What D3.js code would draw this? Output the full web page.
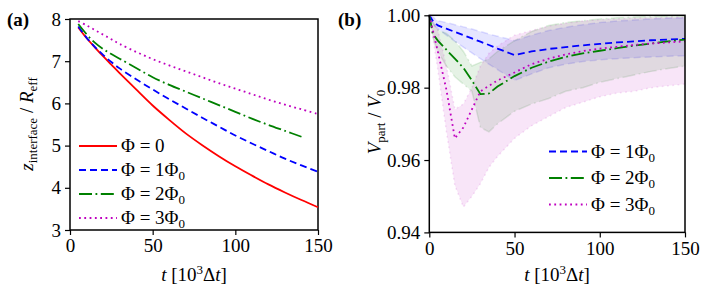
<!DOCTYPE html>
<html>
<head>
<meta charset="utf-8">
<script src="https://cdn.jsdelivr.net/npm/d3@7"></script>
<style>
  body { margin: 0; background: #fff; }
  svg text { font-family: "Liberation Serif", "DejaVu Serif", "Noto Serif", "FreeSerif", "Nimbus Roman", "Nimbus Roman No9 L", "Tinos", "Times New Roman", "Times", "Georgia", serif; }
</style>
</head>
<body>
<svg id="chart" width="707" height="302"></svg>
<script>
// ---- panel (a): interface height ----
const tA = [5, 10, 15, 20, 25, 30, 40, 50, 60, 70, 80, 90, 100, 110, 120, 130, 140, 150];
const zPhi0 = [7.80, 7.55, 7.33, 7.12, 6.92, 6.72, 6.33, 5.95, 5.61, 5.29, 5.01, 4.75, 4.51, 4.29, 4.08, 3.89, 3.71, 3.54];
const zPhi1 = [7.82, 7.56, 7.34, 7.15, 6.98, 6.83, 6.57, 6.33, 6.10, 5.88, 5.66, 5.45, 5.24, 5.05, 4.87, 4.69, 4.53, 4.38];
const zPhi2 = [7.88, 7.64, 7.44, 7.29, 7.17, 7.06, 6.84, 6.62, 6.44, 6.28, 6.12, 5.96, 5.80, 5.64, 5.49, 5.35, 5.21];
const zPhi3 = [7.95, 7.85, 7.74, 7.63, 7.52, 7.41, 7.22, 7.05, 6.90, 6.76, 6.62, 6.48, 6.35, 6.22, 6.09, 5.97, 5.86, 5.75];

// ---- panel (b): particle volume, mean with band ----
const tB = [0, 2, 5, 10, 15, 20, 25, 30, 35, 40, 50, 60, 70, 80, 90, 100, 110, 120, 130, 140, 150];
const vPhi1   = [1.000, 0.9985, 0.9972, 0.9963, 0.9954, 0.9945, 0.9936, 0.9927, 0.9918, 0.9908, 0.9890, 0.9900, 0.9907, 0.9912, 0.9917, 0.9921, 0.9925, 0.9928, 0.9931, 0.9933, 0.9935];
const vPhi1Lo = [1.000, 0.9975, 0.9963, 0.9945, 0.9928, 0.9912, 0.9896, 0.9880, 0.9865, 0.9850, 0.9820, 0.9838, 0.9855, 0.9865, 0.9872, 0.9877, 0.9880, 0.9883, 0.9885, 0.9887, 0.9888];
const vPhi1Hi = [1.000, 0.9995, 0.9985, 0.9980, 0.9974, 0.9968, 0.9962, 0.9955, 0.9948, 0.9942, 0.9930, 0.9945, 0.9958, 0.9967, 0.9974, 0.9980, 0.9984, 0.9987, 0.9990, 0.9992, 0.9993];
const vPhi2   = [1.000, 0.9950, 0.9930, 0.9905, 0.9880, 0.9855, 0.9820, 0.9782, 0.9784, 0.9803, 0.9832, 0.9855, 0.9872, 0.9885, 0.9895, 0.9902, 0.9909, 0.9916, 0.9922, 0.9928, 0.9933];
const vPhi2Lo = [1.000, 0.9940, 0.9900, 0.9860, 0.9830, 0.9810, 0.9790, 0.9690, 0.9678, 0.9700, 0.9735, 0.9755, 0.9770, 0.9790, 0.9800, 0.9815, 0.9825, 0.9835, 0.9845, 0.9853, 0.9860];
const vPhi2Hi = [1.000, 0.9980, 0.9960, 0.9950, 0.9930, 0.9900, 0.9860, 0.9870, 0.9880, 0.9900, 0.9930, 0.9955, 0.9972, 0.9980, 0.9985, 0.9990, 0.9993, 0.9995, 0.9997, 0.9998, 0.9999];
const vPhi3   = [1.000, 0.9960, 0.9900, 0.9795, 0.9660, 0.9690, 0.9740, 0.9790, 0.9805, 0.9820, 0.9842, 0.9865, 0.9880, 0.9892, 0.9901, 0.9908, 0.9913, 0.9918, 0.9922, 0.9925, 0.9928];
const vPhi3Lo = [1.000, 0.9940, 0.9850, 0.9680, 0.9530, 0.9470, 0.9500, 0.9535, 0.9580, 0.9610, 0.9660, 0.9695, 0.9720, 0.9745, 0.9760, 0.9775, 0.9785, 0.9790, 0.9800, 0.9805, 0.9810];
const vPhi3Hi = [1.000, 0.9990, 0.9960, 0.9860, 0.9740, 0.9755, 0.9800, 0.9860, 0.9895, 0.9915, 0.9945, 0.9958, 0.9970, 0.9978, 0.9984, 0.9988, 0.9990, 0.9992, 0.9993, 0.9994, 0.9995];

const xTicks = [0, 50, 100, 150];
const yTicksA = [3, 4, 5, 6, 7, 8];
const yTicksB = [0.94, 0.96, 0.98, 1.00];

const red = "#ff0000", blue = "#0000ff", green = "#008000", mag = "#bf00bf";
const dashed = "7,4", dashdot = "13,3.5,1.8,3.5", dotted = "1.8,3.5";

var svg = d3.select("#chart");
const fs = 19;

function axes(g, x, y, yt, fmt) {
  g.append("g").attr("transform", "translate(0," + y.range()[0] + ")")
    .call(d3.axisBottom(x).tickValues(xTicks).tickSize(5).tickPadding(4))
    .call(a => a.select(".domain").remove());
  g.append("g").attr("transform", "translate(" + x.range()[0] + ",0)")
    .call(d3.axisLeft(y).tickValues(yt).tickFormat(fmt).tickSize(5).tickPadding(4))
    .call(a => a.select(".domain").remove());
  g.selectAll("g").attr("font-size", fs);
  g.selectAll(".tick text").attr("fill", "#000");
  g.selectAll(".tick line").attr("stroke", "#000").attr("stroke-width", 1.2);
  g.append("rect")
    .attr("x", x.range()[0]).attr("y", y.range()[1])
    .attr("width", x.range()[1] - x.range()[0]).attr("height", y.range()[0] - y.range()[1])
    .attr("fill", "none").attr("stroke", "#000").attr("stroke-width", 1.5);
}

function txt(g) {
  return g.append("text").attr("font-size", fs);
}

function xLabel(g, cx, yy) {
  var t = txt(g).attr("x", cx).attr("y", yy).attr("text-anchor", "middle");
  t.append("tspan").attr("font-style", "italic").text("t");
  t.append("tspan").text(" [10");
  t.append("tspan").attr("font-size", 13).attr("dy", -7).text("3");
  t.append("tspan").attr("dy", 7).text("Δ");
  t.append("tspan").attr("font-style", "italic").text("t");
  t.append("tspan").text("]");
}

function legend(g, items, x0, y0, dy) {
  items.forEach((it, i) => {
    var yy = y0 + i * dy;
    g.append("line").attr("x1", x0).attr("x2", x0 + 38).attr("y1", yy).attr("y2", yy)
      .attr("stroke", it.c).attr("stroke-width", 1.8).attr("stroke-dasharray", it.d);
    var t = txt(g).attr("x", x0 + 42).attr("y", yy + 6);
    t.append("tspan").text(it.lab);
    if (it.sub) t.append("tspan").attr("font-size", 13).attr("dy", 4).text(it.sub);
  });
}

// ---------- (a) ----------
var ga = svg.append("g");
var xa = d3.scaleLinear().domain([0, 150]).range([70, 318]);
var ya = d3.scaleLinear().domain([3, 8]).range([230, 19]);
axes(ga, xa, ya, yTicksA, d3.format("d"));

var lineA = d3.line().x(d => xa(d[0])).y(d => ya(d[1])).curve(d3.curveCatmullRom);
[[zPhi0, red, null], [zPhi1, blue, dashed], [zPhi2, green, dashdot], [zPhi3, mag, dotted]].forEach(s => {
  ga.append("path").datum(s[0].map((v, i) => [tA[i], v]))
    .attr("d", lineA).attr("fill", "none").attr("stroke", s[1]).attr("stroke-width", 1.8)
    .attr("stroke-dasharray", s[2]);
});

legend(ga, [
  {lab: "Φ = 0", c: red, d: null},
  {lab: "Φ = 1Φ", sub: "0", c: blue, d: dashed},
  {lab: "Φ = 2Φ", sub: "0", c: green, d: dashdot},
  {lab: "Φ = 3Φ", sub: "0", c: mag, d: dotted}
], 79, 146, 24);

xLabel(ga, 194, 281);
var yl = txt(ga).attr("transform", "translate(33,124) rotate(-90)").attr("text-anchor", "middle");
yl.append("tspan").attr("font-style", "italic").text("z");
yl.append("tspan").attr("font-size", 13).attr("dy", 4).text("interface");
yl.append("tspan").attr("dy", -4).text(" / ");
yl.append("tspan").attr("font-style", "italic").text("R");
yl.append("tspan").attr("font-size", 13).attr("dy", 4).text("eff");
txt(ga).attr("x", 7).attr("y", 26).attr("font-weight", "bold").text("(a)");

// ---------- (b) ----------
var gb = svg.append("g");
var xb = d3.scaleLinear().domain([0, 150]).range([429.3, 685]);
var yb = d3.scaleLinear().domain([0.94, 1.00]).range([232.4, 15.3]);

var bandB = d3.area().x(d => xb(d[0])).y0(d => yb(d[1])).y1(d => yb(d[2]));
var lineB = d3.line().x(d => xb(d[0])).y(d => yb(d[1]));
const seriesB = [
  [vPhi1, vPhi1Lo, vPhi1Hi, blue, dashed],
  [vPhi2, vPhi2Lo, vPhi2Hi, green, dashdot],
  [vPhi3, vPhi3Lo, vPhi3Hi, mag, dotted]
];
seriesB.forEach(s => {
  var pts = tB.map((t, i) => [t, s[1][i], s[2][i]]);
  gb.append("path").datum(pts).attr("d", bandB).attr("fill", s[3]).attr("fill-opacity", 0.1).attr("stroke", "none");
  [1, 2].forEach(k => {
    gb.append("path").datum(tB.map((t, i) => [t, s[k][i]])).attr("d", lineB)
      .attr("fill", "none").attr("stroke", s[3]).attr("stroke-opacity", 0.12)
      .attr("stroke-width", 1.5).attr("stroke-dasharray", s[4]);
  });
});
seriesB.forEach(s => {
  gb.append("path").datum(tB.map((t, i) => [t, s[0][i]])).attr("d", lineB)
    .attr("fill", "none").attr("stroke", s[3]).attr("stroke-width", 1.8).attr("stroke-dasharray", s[4]);
});
axes(gb, xb, yb, yTicksB, d3.format(".2f"));

legend(gb, [
  {lab: "Φ = 1Φ", sub: "0", c: blue, d: dashed},
  {lab: "Φ = 2Φ", sub: "0", c: green, d: dashdot},
  {lab: "Φ = 3Φ", sub: "0", c: mag, d: dotted}
], 549, 151.5, 26.5);

xLabel(gb, 557, 281);
var yl2 = txt(gb).attr("transform", "translate(381,122) rotate(-90)").attr("text-anchor", "middle");
yl2.append("tspan").attr("font-style", "italic").text("V");
yl2.append("tspan").attr("font-size", 13).attr("dy", 4).text("part");
yl2.append("tspan").attr("dy", -4).text(" / ");
yl2.append("tspan").attr("font-style", "italic").text("V");
yl2.append("tspan").attr("font-size", 13).attr("dy", 4).text("0");
txt(gb).attr("x", 338).attr("y", 26).attr("font-weight", "bold").text("(b)");
</script>
</body>
</html>
